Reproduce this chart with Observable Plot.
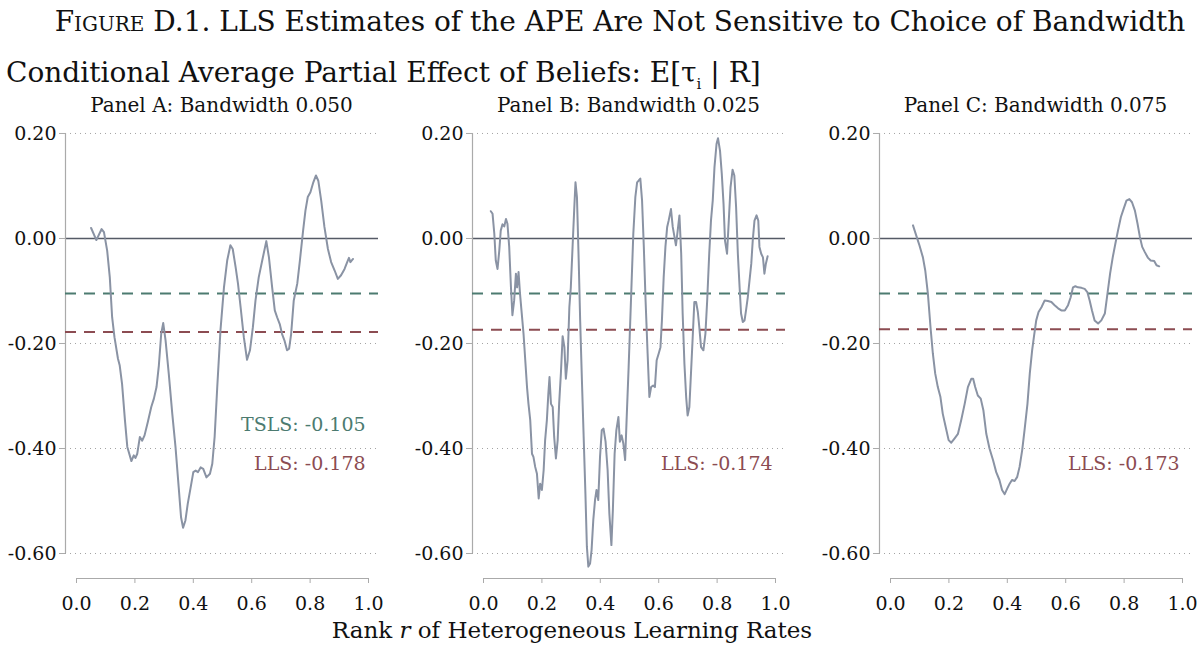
<!DOCTYPE html>
<html>
<head>
<meta charset="utf-8">
<script src="https://cdn.jsdelivr.net/npm/d3@7"></script>
<script src="https://cdn.jsdelivr.net/npm/@observablehq/plot@0.6"></script>
<style>
  html, body { margin: 0; padding: 0; background: #fff; }
  body { width: 1202px; height: 646px; overflow: hidden; font-family: "DejaVu Serif", serif; color: #111; }
  #root { position: relative; width: 1202px; height: 646px; }
  .abs { position: absolute; white-space: nowrap; line-height: normal; }
  #title { left: 0; width: 1240px; top: 5px; text-align: center; font-size: 28px; }
  #subtitle { left: 6px; top: 56px; font-size: 28px; }
  .ptitle { top: 93px; font-size: 20px; text-align: center; width: 313px; }
  #xtitle { left: 0; width: 1144px; top: 617px; text-align: center; font-size: 23px; }
  .panel { position: absolute; top: 118px; }
</style>
</head>
<body>
<div id="root">
  <div class="abs" id="title"><span style="font-variant: small-caps">Figure</span> D.1. LLS Estimates of the APE Are Not Sensitive to Choice of Bandwidth</div>
  <div class="abs" id="subtitle">Conditional Average Partial Effect of Beliefs: E[τ<sub style="font-size:15px">i</sub> | R]</div>
  <div class="abs" id="xtitle">Rank <i>r</i> of Heterogeneous Learning Rates</div>
</div>
<script>
// ---- Data ----
const panelTitles = ["Panel A: Bandwidth 0.050", "Panel B: Bandwidth 0.025", "Panel C: Bandwidth 0.075"];
const tslsEstimate = -0.105;
const llsEstimates = [-0.178, -0.174, -0.173];
const yTicks = [0.2, 0, -0.2, -0.4, -0.6];
const xTicks = [0, 0.2, 0.4, 0.6, 0.8, 1.0];

const xA = [0.050,0.068,0.086,0.094,0.105,0.114,0.122,0.130,0.142,0.148,0.156,0.166,0.174,0.188,0.196,0.202,0.208,0.217,0.225,0.233,0.244,0.256,0.265,0.274,0.282,0.290,0.297,0.305,0.316,0.328,0.339,0.350,0.358,0.365,0.373,0.381,0.390,0.400,0.408,0.416,0.425,0.434,0.445,0.457,0.465,0.473,0.482,0.493,0.505,0.516,0.527,0.535,0.545,0.553,0.562,0.573,0.584,0.594,0.604,0.613,0.624,0.636,0.650,0.659,0.670,0.679,0.687,0.696,0.704,0.712,0.721,0.728,0.735,0.744,0.756,0.765,0.776,0.784,0.792,0.801,0.811,0.820,0.828,0.838,0.849,0.861,0.872,0.884,0.895,0.906,0.918,0.927,0.933,0.938,0.947];
const yA = [0.020,-0.003,0.018,0.012,-0.023,-0.074,-0.150,-0.188,-0.229,-0.242,-0.277,-0.347,-0.397,-0.424,-0.413,-0.418,-0.410,-0.378,-0.385,-0.375,-0.350,-0.321,-0.305,-0.283,-0.242,-0.182,-0.161,-0.194,-0.258,-0.334,-0.397,-0.474,-0.531,-0.551,-0.537,-0.505,-0.477,-0.445,-0.442,-0.445,-0.436,-0.439,-0.455,-0.448,-0.429,-0.378,-0.283,-0.175,-0.093,-0.042,-0.013,-0.020,-0.055,-0.086,-0.131,-0.188,-0.231,-0.213,-0.169,-0.118,-0.074,-0.042,-0.005,-0.036,-0.093,-0.137,-0.150,-0.163,-0.182,-0.194,-0.213,-0.210,-0.182,-0.118,-0.086,-0.042,0.015,0.053,0.079,0.088,0.107,0.120,0.110,0.072,0.022,-0.020,-0.045,-0.061,-0.077,-0.070,-0.058,-0.045,-0.037,-0.045,-0.039];

const xB = [0.025,0.031,0.037,0.042,0.048,0.054,0.059,0.065,0.071,0.077,0.082,0.088,0.094,0.099,0.105,0.111,0.115,0.120,0.125,0.130,0.137,0.143,0.149,0.154,0.160,0.166,0.171,0.177,0.183,0.189,0.194,0.200,0.206,0.211,0.217,0.222,0.226,0.231,0.237,0.242,0.248,0.254,0.259,0.265,0.271,0.277,0.282,0.288,0.294,0.299,0.305,0.311,0.315,0.320,0.326,0.331,0.337,0.343,0.349,0.354,0.359,0.365,0.370,0.376,0.382,0.387,0.393,0.399,0.405,0.411,0.418,0.425,0.431,0.438,0.443,0.449,0.455,0.462,0.467,0.473,0.479,0.485,0.490,0.497,0.505,0.513,0.520,0.526,0.531,0.537,0.543,0.549,0.555,0.562,0.568,0.574,0.581,0.587,0.593,0.600,0.606,0.611,0.617,0.623,0.629,0.634,0.642,0.648,0.654,0.659,0.665,0.671,0.677,0.682,0.688,0.694,0.699,0.705,0.711,0.717,0.722,0.728,0.734,0.739,0.745,0.753,0.760,0.766,0.773,0.779,0.785,0.791,0.798,0.803,0.810,0.816,0.822,0.827,0.834,0.840,0.846,0.853,0.859,0.865,0.871,0.877,0.882,0.888,0.894,0.899,0.905,0.911,0.917,0.922,0.928,0.935,0.941,0.945,0.951,0.957,0.962,0.967,0.973];
const yB = [0.052,0.047,0.009,-0.042,-0.058,-0.023,0.015,0.027,0.023,0.037,0.028,-0.016,-0.093,-0.146,-0.118,-0.067,-0.093,-0.064,-0.105,-0.137,-0.181,-0.232,-0.283,-0.315,-0.346,-0.410,-0.416,-0.435,-0.448,-0.495,-0.467,-0.479,-0.441,-0.384,-0.346,-0.296,-0.264,-0.315,-0.321,-0.378,-0.419,-0.384,-0.315,-0.257,-0.186,-0.207,-0.267,-0.232,-0.131,-0.093,-0.016,0.060,0.107,0.079,-0.042,-0.156,-0.270,-0.378,-0.486,-0.587,-0.625,-0.619,-0.594,-0.536,-0.498,-0.479,-0.498,-0.416,-0.365,-0.362,-0.387,-0.441,-0.524,-0.584,-0.517,-0.410,-0.365,-0.340,-0.387,-0.375,-0.391,-0.422,-0.346,-0.245,-0.118,0.009,0.079,0.107,0.110,0.114,0.072,-0.016,-0.118,-0.219,-0.302,-0.283,-0.280,-0.283,-0.232,-0.219,-0.207,-0.156,-0.074,-0.016,0.022,0.034,0.056,0.022,0.003,-0.013,0.015,0.044,-0.029,-0.143,-0.238,-0.302,-0.337,-0.321,-0.251,-0.181,-0.121,-0.121,-0.140,-0.169,-0.207,-0.213,-0.181,-0.118,-0.029,0.034,0.072,0.136,0.180,0.191,0.167,0.123,0.066,-0.004,-0.029,0.034,0.098,0.131,0.120,0.060,-0.029,-0.093,-0.143,-0.159,-0.156,-0.137,-0.112,-0.080,-0.048,-0.004,0.034,0.044,0.034,-0.016,-0.029,-0.036,-0.067,-0.048,-0.034];

const xC = [0.077,0.088,0.099,0.111,0.119,0.128,0.137,0.145,0.153,0.162,0.171,0.179,0.189,0.199,0.208,0.219,0.231,0.242,0.254,0.265,0.277,0.283,0.290,0.299,0.309,0.318,0.328,0.339,0.351,0.362,0.373,0.382,0.391,0.400,0.408,0.416,0.425,0.434,0.442,0.451,0.459,0.469,0.477,0.485,0.491,0.499,0.507,0.517,0.528,0.539,0.551,0.562,0.574,0.585,0.597,0.608,0.617,0.625,0.633,0.642,0.654,0.665,0.674,0.682,0.690,0.699,0.711,0.722,0.734,0.743,0.752,0.761,0.770,0.779,0.789,0.798,0.808,0.818,0.827,0.837,0.846,0.854,0.862,0.871,0.882,0.891,0.903,0.911,0.920];
const yC = [0.025,0.006,-0.013,-0.036,-0.061,-0.105,-0.169,-0.219,-0.257,-0.283,-0.302,-0.334,-0.359,-0.384,-0.389,-0.381,-0.372,-0.346,-0.315,-0.283,-0.267,-0.267,-0.283,-0.299,-0.305,-0.327,-0.372,-0.400,-0.422,-0.445,-0.460,-0.479,-0.487,-0.476,-0.467,-0.460,-0.462,-0.454,-0.435,-0.403,-0.365,-0.315,-0.257,-0.213,-0.188,-0.156,-0.140,-0.131,-0.118,-0.119,-0.121,-0.127,-0.133,-0.137,-0.137,-0.127,-0.112,-0.093,-0.091,-0.093,-0.094,-0.096,-0.102,-0.118,-0.137,-0.156,-0.162,-0.156,-0.143,-0.105,-0.067,-0.036,-0.010,0.015,0.041,0.056,0.072,0.075,0.069,0.053,0.028,0.003,-0.016,-0.026,-0.037,-0.042,-0.043,-0.051,-0.053];

const series = [[xA, yA], [xB, yB], [xC, yC]];

// ---- Styles ----
const FONT = "DejaVu Serif";
const lineColor = "#8a93a4";
const tslsColor = "#4c7b70";
const llsColor = "#8c4c52";
const lefts = [0, 407, 814];

function panel(i) {
  const [xs, ys] = series[i];
  const data = xs.map((x, k) => ({x, y: ys[k]}));
  const marks = [
    Plot.gridY(yTicks.filter(d => d !== 0), {stroke: "#999", strokeOpacity: 0.9, strokeDasharray: "1,4"}),
    Plot.ruleY([0], {stroke: "#555a66", strokeWidth: 1.4}),
    Plot.ruleX([-0.0377], {y1: yTicks[yTicks.length - 1], y2: yTicks[0], stroke: "#aaa", strokeWidth: 1.2}),
    Plot.ruleY([-0.6476], {x1: xTicks[0], x2: xTicks[xTicks.length - 1], stroke: "#aaa", strokeWidth: 1.2}),
    Plot.ruleY([tslsEstimate], {stroke: tslsColor, strokeWidth: 2, strokeDasharray: "11,8"}),
    Plot.ruleY([llsEstimates[i]], {stroke: llsColor, strokeWidth: 2, strokeDasharray: "11,8"}),
    Plot.line(data, {x: "x", y: "y", stroke: lineColor, strokeWidth: 2}),
    Plot.axisY({ticks: yTicks, tickFormat: d => d.toFixed(2), tickSize: 6, tickPadding: 3, stroke: "#aaa", fill: "#111", fontSize: 19}),
    Plot.axisX({ticks: xTicks, tickFormat: d => d.toFixed(1), tickSize: 5, tickPadding: 13, stroke: "#aaa", fill: "#111", fontSize: 19}),
    Plot.text([`LLS: ${llsEstimates[i].toFixed(3)}`], {x: 0.99, y: -0.429, text: d => d, textAnchor: "end", fill: llsColor, fontSize: 19})
  ];
  if (i === 0) {
    marks.push(Plot.text([`TSLS: ${tslsEstimate.toFixed(3)}`], {x: 0.99, y: -0.356, text: d => d, textAnchor: "end", fill: tslsColor, fontSize: 19}));
  }
  const svg = Plot.plot({
    width: 388,
    height: 502,
    marginLeft: 65,
    marginRight: 10,
    marginTop: 5,
    marginBottom: 42,
    x: {domain: [-0.0377, 1.0342], label: null},
    y: {domain: [-0.6476, 0.219], label: null},
    style: {fontFamily: FONT, fontSize: "19px", color: "#111", background: "transparent", overflow: "visible"},
    marks
  });
  const wrap = document.createElement("div");
  wrap.className = "panel";
  wrap.style.left = lefts[i] + "px";
  wrap.appendChild(svg);
  document.getElementById("root").appendChild(wrap);

  const t = document.createElement("div");
  t.className = "abs ptitle";
  t.style.left = (lefts[i] + 65) + "px";
  t.textContent = panelTitles[i];
  document.getElementById("root").appendChild(t);
}
[0, 1, 2].forEach(panel);
</script>
</body>
</html>
